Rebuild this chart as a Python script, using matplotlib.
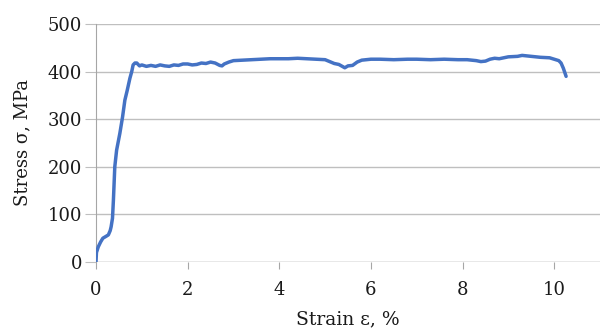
import matplotlib
matplotlib.use("Agg")
import matplotlib.pyplot as plt

strain = [0.0, 0.01, 0.05, 0.10, 0.15, 0.22, 0.27, 0.31, 0.33, 0.36, 0.38, 0.41, 0.45, 0.52, 0.58, 0.63, 0.68, 0.74, 0.78, 0.81, 0.85, 0.89, 0.95, 1.0, 1.1, 1.2, 1.3, 1.4, 1.5, 1.6, 1.7, 1.8, 1.9, 2.0, 2.1, 2.2, 2.3, 2.4, 2.5, 2.6, 2.7, 2.75, 2.8, 2.9, 3.0, 3.2, 3.4, 3.6, 3.8, 4.0, 4.2, 4.4, 4.6, 4.8, 5.0, 5.1, 5.2, 5.3, 5.43, 5.5, 5.6, 5.7, 5.8, 6.0, 6.2, 6.5, 6.8, 7.0, 7.3, 7.6, 7.9, 8.1, 8.3, 8.4, 8.5, 8.6, 8.7, 8.8, 8.9, 9.0, 9.2, 9.3, 9.5, 9.7, 9.9, 10.0, 10.1, 10.15, 10.2, 10.26]
stress = [0, 20, 32, 42, 50, 54, 57, 66, 74, 92, 130, 200, 235, 270, 305, 340, 360, 386, 400, 414, 418, 418, 412, 414, 411, 413, 411, 414, 412, 411, 414, 413, 416, 416, 414, 415, 418, 417, 420, 418, 413, 412, 416, 420, 423, 424, 425, 426, 427, 427, 427, 428, 427, 426, 425, 421, 417, 415, 408, 412, 413, 420, 424, 426, 426, 425, 426, 426, 425, 426, 425, 425, 423, 421, 422, 426, 428, 427, 429, 431, 432, 434, 432, 430, 429, 426, 423, 418, 407, 390]

xticks = [0, 2, 4, 6, 8, 10]
yticks = [0, 100, 200, 300, 400, 500]

plt.rcParams['font.family'] = ['DejaVu Serif']
fig = plt.figure(figsize=(6.0, 3.29), dpi=100)
ax = fig.add_axes([0.16, 0.2036, 0.84, 0.7235])
ax.plot(strain, stress, color='#4472C4', lw=2.5, solid_capstyle='round', zorder=3)
ax.set_xlim(0, 11)
ax.set_ylim(0, 500)
ax.set_xticks(xticks)
ax.set_yticks(yticks)
ax.yaxis.grid(True, color='#BFBFBF', lw=1.0)
ax.set_axisbelow(True)
for s in ['top', 'right', 'bottom']:
    ax.spines[s].set_visible(False)
ax.spines['left'].set_color('#A6A6A6')
ax.tick_params(axis='x', colors='#A6A6A6', length=5, direction='out', labelcolor='#1a1a1a', labelsize=13, pad=9)
ax.tick_params(axis='y', colors='#BFBFBF', length=8, direction='out', labelcolor='#1a1a1a', labelsize=13, pad=2)
ax.axhline(0, color='#BFBFBF', lw=1.0, zorder=1)
ax.set_xlabel('Strain ε, %', fontsize=13.5, color='#1a1a1a', labelpad=8)
ax.set_ylabel('Stress σ, MPa', fontsize=13, color='#1a1a1a', labelpad=12)
fig.savefig('out.png', dpi=100)
